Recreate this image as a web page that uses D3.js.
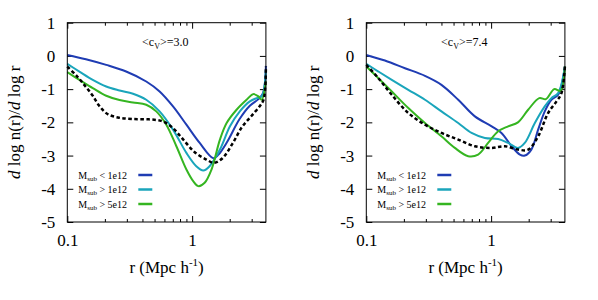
<!DOCTYPE html>
<html>
<head>
<meta charset="utf-8">
<script src="https://cdn.jsdelivr.net/npm/d3@7"></script>
<style>
  body { margin: 0; background: #fff; }
  svg { display: block; }
  svg text { font-family: "Liberation Serif", "Times New Roman", "DejaVu Serif", serif; }
</style>
</head>
<body>
<svg id="chart" width="598" height="300"></svg>
<script>
// data: [r (Mpc/h), dlog n / dlog r]
const yTicks = [-5, -4, -3, -2, -1, 0, 1];
const xTicks = [0.1, 1];
const xMinor = [0.2, 0.3, 0.4, 0.5, 0.6, 0.7, 0.8, 0.9, 2, 3];
const seriesNames = ["< 1e12", "> 1e12", "> 5e12"];
const seriesColors = ["#1f3cb3", "#1aa5bb", "#35b521"];
const panelLabels = ["3.0", "7.4"];

// left panel, <c_v>=3.0
const lowBlue = [[0.1,0.03],[0.141,-0.10],[0.205,-0.27],[0.296,-0.47],[0.429,-0.77],[0.549,-1.07],
  [0.703,-1.52],[0.90,-2.07],[1.15,-2.62],[1.48,-3.08],[1.62,-2.98],[1.9,-2.6],[2.4,-1.9],
  [2.9,-1.5],[3.4,-1.3],[3.7,-1.12],[3.9,-0.3]];
const lowCyan = [[0.1,-0.24],[0.125,-0.47],[0.16,-0.72],[0.205,-0.92],[0.262,-1.04],[0.336,-1.14],
  [0.429,-1.32],[0.549,-1.67],[0.703,-2.22],[0.90,-2.92],[1.08,-3.32],[1.23,-3.45],[1.38,-3.32],
  [1.67,-2.82],[2.01,-2.12],[2.41,-1.67],[2.90,-1.37],[3.29,-1.27],[3.61,-1.22],[3.9,-0.42]];
const lowGreen = [[0.1,-0.49],[0.125,-0.72],[0.16,-0.97],[0.205,-1.2],[0.262,-1.33],[0.336,-1.40],
  [0.429,-1.47],[0.516,-1.67],[0.621,-2.07],[0.748,-2.72],[0.90,-3.42],[1.02,-3.77],[1.12,-3.92],
  [1.26,-3.82],[1.43,-3.42],[1.67,-2.52],[1.89,-2.02],[2.27,-1.62],[2.73,-1.32],[3.09,-1.15],
  [3.40,-1.22],[3.61,-1.32],[3.9,-0.77]];
const lowAll = [[0.1,-0.32],[0.12,-0.62],[0.14,-0.92],[0.16,-1.2],[0.18,-1.5],[0.21,-1.75],
  [0.26,-1.86],[0.33,-1.9],[0.45,-1.91],[0.58,-1.97],[0.7,-2.17],[0.84,-2.5],[1.05,-2.9],
  [1.3,-3.12],[1.5,-3.22],[1.75,-3.08],[2.1,-2.65],[2.5,-2.15],[3.0,-1.8],[3.5,-1.5],
  [3.75,-1.3],[3.9,-0.32]];

// right panel, <c_v>=7.4
const highBlue = [[0.1,0.03],[0.141,-0.14],[0.204,-0.37],[0.295,-0.60],[0.40,-0.87],[0.545,-1.32],
  [0.741,-1.82],[1.01,-2.12],[1.21,-2.32],[1.46,-2.72],[1.70,-2.97],[1.86,-3.0],[2.10,-2.82],
  [2.38,-2.22],[2.69,-1.67],[3.04,-1.32],[3.44,-1.17],[3.9,-0.32]];
const highCyan = [[0.1,-0.24],[0.125,-0.47],[0.16,-0.72],[0.217,-1.02],[0.295,-1.32],[0.40,-1.67],
  [0.545,-2.02],[0.697,-2.32],[0.891,-2.47],[1.14,-2.50],[1.37,-2.62],[1.64,-2.77],[1.86,-2.62],
  [2.24,-2.02],[2.69,-1.52],[3.04,-1.27],[3.44,-1.12],[3.9,-0.32]];
const highGreen = [[0.1,-0.32],[0.125,-0.67],[0.16,-1.07],[0.217,-1.57],[0.295,-2.02],[0.40,-2.42],
  [0.512,-2.77],[0.655,-3.02],[0.787,-2.97],[0.946,-2.62],[1.14,-2.27],[1.37,-2.12],[1.64,-2.0],
  [1.98,-1.62],[2.43,-1.27],[2.75,-1.3],[3.2,-1.0],[3.6,-1.05],[3.9,-0.32]];
const highAll = [[0.1,-0.27],[0.125,-0.67],[0.16,-1.17],[0.217,-1.72],[0.295,-2.07],[0.40,-2.32],
  [0.545,-2.52],[0.741,-2.72],[1.01,-2.77],[1.29,-2.72],[1.64,-2.82],[1.98,-2.82],[2.38,-2.42],
  [2.86,-1.72],[3.34,-1.37],[3.66,-1.12],[3.9,-0.32]];

const svg = d3.select("#chart");
const plotTop = 22.7, plotBottom = 222;
const panelLeft = [67.3, 366.3];
const panelWidth = 198.6;
const serif = "Liberation Serif, Times New Roman, serif";

function drawPanel(p, lines, black) {
  const x0 = panelLeft[p], x1 = x0 + panelWidth;
  const x = d3.scaleLog().domain([0.1, 3.9]).range([x0, x1]);
  const y = d3.scaleLinear().domain([-5, 1]).range([plotBottom, plotTop]);
  const g = svg.append("g").attr("font-family", serif);

  // ticks (inward, mirrored on all sides)
  g.append("g").attr("transform", `translate(0,${plotBottom})`)
    .call(d3.axisBottom(x).tickValues(xTicks).tickSize(-6).tickPadding(12).tickFormat(d3.format("")));
  g.append("g").attr("transform", `translate(0,${plotBottom})`)
    .call(d3.axisBottom(x).tickValues(xMinor).tickSize(-3).tickFormat(""));
  g.append("g").attr("transform", `translate(0,${plotTop})`)
    .call(d3.axisTop(x).tickValues(xTicks).tickSize(-6).tickFormat(""));
  g.append("g").attr("transform", `translate(0,${plotTop})`)
    .call(d3.axisTop(x).tickValues(xMinor).tickSize(-3).tickFormat(""));
  g.append("g").attr("transform", `translate(${x0},0)`)
    .call(d3.axisLeft(y).tickValues(yTicks).tickSize(-6).tickPadding(12).tickFormat(d3.format("d")));
  g.append("g").attr("transform", `translate(${x1},0)`)
    .call(d3.axisRight(y).tickValues(yTicks).tickSize(-6).tickFormat(""));

  g.selectAll(".domain").remove();
  g.selectAll(".tick line").attr("stroke", "#000");
  g.selectAll(".tick text").attr("font-size", 17).attr("fill", "#000")
    .attr("font-family", serif);
  g.selectAll(".tick text").text(function() { return this.textContent.replace("\u2212", "-"); });

  const line = d3.line().x(d => x(d[0])).y(d => y(d[1])).curve(d3.curveCatmullRom.alpha(0.5));

  lines.forEach((data, i) => {
    g.append("path").datum(data)
      .attr("fill", "none").attr("stroke", seriesColors[i]).attr("stroke-width", 2)
      .attr("d", line);
  });
  g.append("path").datum(black)
    .attr("fill", "none").attr("stroke", "#000").attr("stroke-width", 2.5)
    .attr("stroke-dasharray", "3.5,2.5")
    .attr("d", line);

  g.append("rect").attr("x", x0).attr("y", plotTop)
    .attr("width", x1 - x0).attr("height", plotBottom - plotTop)
    .attr("fill", "none").attr("stroke", "#000").attr("stroke-width", 1);

  // annotation
  const ann = g.append("text").attr("x", x0 + 98).attr("y", 46)
    .attr("text-anchor", "middle").attr("font-size", 12);
  ann.append("tspan").text("<c");
  ann.append("tspan").attr("font-size", 8).attr("dy", 3).text("V");
  ann.append("tspan").attr("dy", -3).text(">=" + panelLabels[p]);

  // legend
  seriesNames.forEach((name, i) => {
    const ly = 175 + i * 14.5;
    const t = g.append("text").attr("x", x0 + 11).attr("y", ly + 3.5).attr("font-size", 10);
    t.append("tspan").text("M");
    t.append("tspan").attr("font-size", 7).attr("dy", 2).text("sub");
    t.append("tspan").attr("dy", -2).text(" " + name);
    g.append("line").attr("x1", x0 + 71).attr("x2", x0 + 85).attr("y1", ly).attr("y2", ly)
      .attr("stroke", seriesColors[i]).attr("stroke-width", 2.5);
  });

  // axis titles
  const xt = g.append("text").attr("x", (x0 + x1) / 2).attr("y", 273)
    .attr("text-anchor", "middle").attr("font-size", 17);
  xt.append("tspan").text("r (Mpc h");
  xt.append("tspan").attr("font-size", 11).attr("dy", -7).text("-1");
  xt.append("tspan").attr("dy", 7).text(")");

  const yt = g.append("text")
    .attr("transform", `translate(${x0 - 47},${(plotTop + plotBottom) / 2}) rotate(-90)`)
    .attr("text-anchor", "middle").attr("font-size", 17);
  yt.append("tspan").attr("font-style", "italic").text("d");
  yt.append("tspan").text(" log n(r)/");
  yt.append("tspan").attr("font-style", "italic").text("d");
  yt.append("tspan").text(" log r");
}

drawPanel(0, [lowBlue, lowCyan, lowGreen], lowAll);
drawPanel(1, [highBlue, highCyan, highGreen], highAll);
</script>
</body>
</html>
